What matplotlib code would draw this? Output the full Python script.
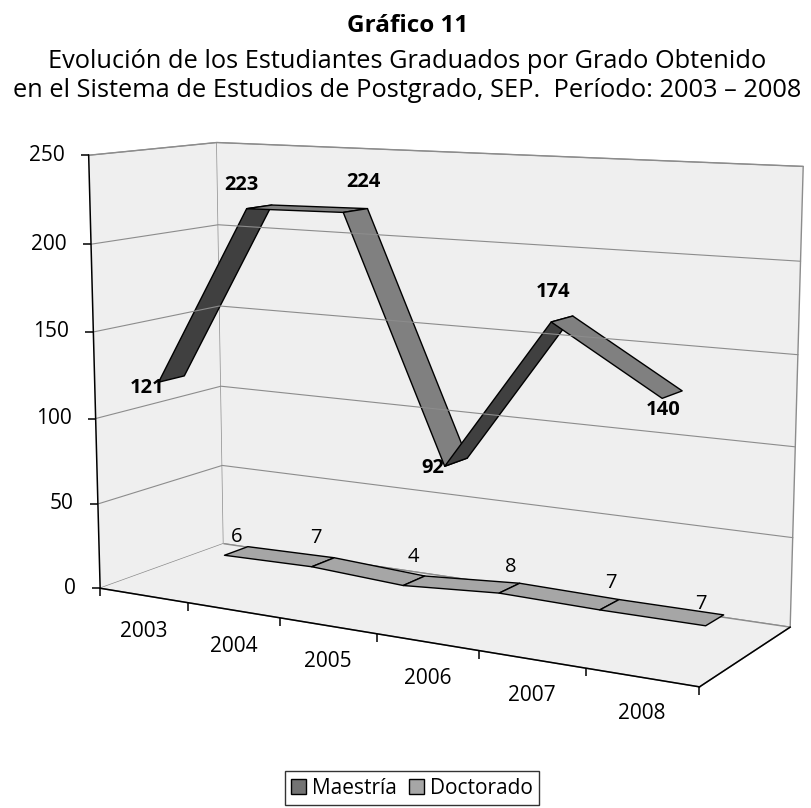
import numpy as np
import matplotlib
matplotlib.use('Agg')
import matplotlib.pyplot as plt
from matplotlib.transforms import ScaledTranslation
from matplotlib.patches import Patch
from mpl_toolkits.mplot3d import proj3d
from mpl_toolkits.mplot3d.art3d import Poly3DCollection

# data
years = ['2003', '2004', '2005', '2006', '2007', '2008']
maestria = [121, 223, 224, 92, 174, 140]
doctorado = [6, 7, 4, 8, 7, 7]
series_names = ['Maestría', 'Doctorado']
zticks = [0, 50, 100, 150, 200, 250]

plt.rcParams['font.family'] = ['Open Sans', 'DejaVu Sans']

ELEV, AZIM = 10, -60
ASPECT = (3.23, 1.06, 2.15)
ZMAX = 250
ROW_M, ROW_D, HALF = 0.25, 0.75, 0.1
GRID = '#8c8c8c'

fig = plt.figure(figsize=(8.12, 8.08), dpi=100)
ax = fig.add_axes([0.0542, 0.0371, 0.936, 0.9406], projection='3d',
                  computed_zorder=False)
ax.set_proj_type('persp', focal_length=0.55)
ax.view_init(elev=ELEV, azim=AZIM)
ax.set_box_aspect(ASPECT, zoom=1.083)
ax.set_xlim(0, 6)
ax.set_ylim(0, 1)
ax.set_zlim(0, ZMAX)
ax.set_xticks([])
ax.set_yticks([])
ax.set_zticks([])
ax.grid(False)
for axis in (ax.xaxis, ax.yaxis, ax.zaxis):
    axis.set_pane_color('#efefef')
    axis.pane.set_edgecolor(GRID)
    axis.pane.set_linewidth(1)
    axis.line.set_color((0, 0, 0, 0))


def off(dx, dy):
    # shift in pixels (dpi = 100)
    return ax.transData + ScaledTranslation(dx / 100, dy / 100, fig.dpi_scale_trans)


# gridlines on left and back walls
for v in zticks[1:]:
    ax.plot([0, 0, 6], [0, 1, 1], [v, v, v], color=GRID, lw=0.8)

# view direction, used to pick which side of a ribbon segment is seen
e, a = np.deg2rad(ELEV), np.deg2rad(AZIM)
view = np.array([np.cos(e) * np.cos(a), np.cos(e) * np.sin(a), np.sin(e)])


def ribbon(vals, row, face, dark):
    polys, cols = [], []
    for i in range(len(vals) - 1):
        x0, x1 = i + 0.5, i + 1.5
        polys.append([(x0, row - HALF, vals[i]), (x1, row - HALF, vals[i + 1]),
                      (x1, row + HALF, vals[i + 1]), (x0, row + HALF, vals[i])])
        dx = ASPECT[0] / 6
        dz = (vals[i + 1] - vals[i]) / ZMAX * ASPECT[2]
        n = np.array([-dz, 0, dx])
        cols.append(face if n @ view > 0 else dark)
    pc = Poly3DCollection(polys, facecolors=cols, edgecolors='black', linewidths=1)
    ax.add_collection3d(pc)


ribbon(doctorado, ROW_D, '#a6a6a6', '#7a7a7a')
ribbon(maestria, ROW_M, '#808080', '#404040')

# axis lines
ax.plot([0, 0], [0, 0], [0, ZMAX], color='black', lw=1.1)
ax.plot([0, 6], [0, 0], [0, 0], color='black', lw=1.1)
ax.plot([6, 6], [0, 1], [0, 0], color='black', lw=1.1)
ax.plot([0] * len(zticks), [0] * len(zticks), zticks, ls='none',
        marker=0, ms=6, mew=1.1, color='black')
ax.plot(list(range(7)), [0] * 7, [0] * 7, ls='none', marker=3, ms=6,
        mew=1.1, color='black')

# texts are placed in 2D at the projected points
fig.canvas.draw()
M = ax.get_proj()


def label(x, y, z, s, dx, dy, **kw):
    px, py, _ = proj3d.proj_transform(x, y, z, M)
    ax.text2D(px, py, s, transform=off(dx, dy), **kw)


for v in zticks:
    label(0, 0, v, str(v), -24, 0, ha='right', va='center', fontsize=15)
for i, yr in enumerate(years):
    label(i + 0.5, 0, 0, yr, 0, -36, ha='center', va='center', fontsize=15)

# data labels
m_off = [(-24, -9), (-18, 22), (8, 28), (-23, -6), (-9, 27), (-9, -15)]
d_off = [(0, 14), (-7, 24), (-1, 24), (1, 21), (1, 22), (-14, 16)]
for i, v in enumerate(maestria):
    label(i + 0.5, ROW_M, v, str(v), *m_off[i], ha='center', va='center',
          fontsize=14.5, weight='bold')
for i, v in enumerate(doctorado):
    label(i + 0.5, ROW_D, v, str(v), *d_off[i], ha='center', va='center',
          fontsize=14.5)

fig.text(0.502, 1 - 32 / 808, 'Gráfico 11', ha='center', va='baseline',
         fontsize=17.5, weight='bold')
fig.text(0.502, 1 - 68 / 808, 'Evolución de los Estudiantes Graduados por Grado Obtenido',
         ha='center', va='baseline', fontsize=18.3)
fig.text(0.502, 1 - 97 / 808,
         'en el Sistema de Estudios de Postgrado, SEP.  Período: 2003 – 2008',
         ha='center', va='baseline', fontsize=18.3)

handles = [Patch(facecolor='#737373', edgecolor='black'),
           Patch(facecolor='#a6a6a6', edgecolor='black')]
leg = fig.legend(handles, series_names, loc='center', ncol=2,
                 bbox_to_anchor=(412 / 812, 1 - 788 / 808), frameon=True,
                 fancybox=False, edgecolor='black', fontsize=15,
                 handlelength=0.7, handleheight=0.7, handletextpad=0.3,
                 columnspacing=0.6, borderpad=0.3, borderaxespad=0)
leg.get_frame().set_linewidth(1)

fig.savefig('out.png', dpi=100, facecolor='white')
